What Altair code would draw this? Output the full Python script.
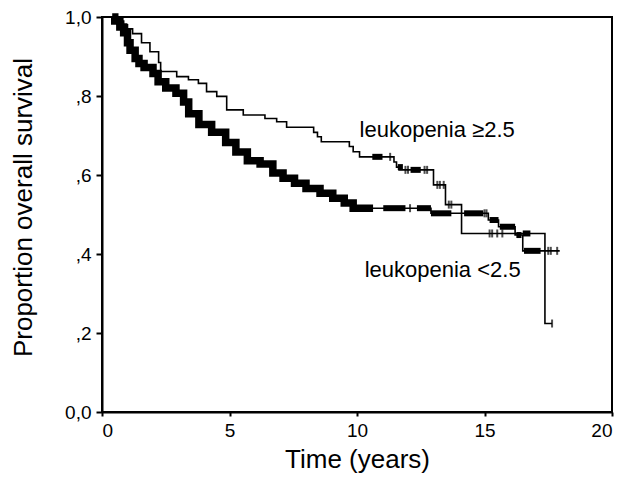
import altair as alt
import pandas as pd

# Kaplan-Meier step points (time in years, proportion surviving)
# leukopenia >= 2.5 (thin curve)
hi_t = [0, 0.6, 0.85, 1.0, 1.2, 1.55, 1.88, 2.22, 2.3, 2.93, 3.39, 3.78, 4.1, 4.5, 4.89,
        5.54, 6.39, 6.85, 7.24, 8.3, 8.45, 8.6, 9.7, 9.85, 10.1, 11.45, 11.55, 11.65,
        13.0, 13.47, 14.1, 17.37, 17.65]
hi_s = [1.0, 0.99, 0.98, 0.97, 0.958, 0.935, 0.912, 0.885, 0.862, 0.849, 0.841, 0.832, 0.811, 0.799, 0.765,
        0.752, 0.743, 0.735, 0.721, 0.708, 0.697, 0.684, 0.672, 0.659, 0.646, 0.633, 0.62, 0.613,
        0.575, 0.525, 0.452, 0.224, 0.224]

# leukopenia < 2.5 (heavy curve)
lo_t = [0, 0.5, 0.7, 0.85, 1.0, 1.1, 1.3, 1.45, 1.65, 2.0, 2.2, 2.5, 2.9, 3.2, 3.4, 3.8, 4.3,
        4.85, 5.25, 5.7, 6.2, 6.7, 7.1, 7.55, 8.0, 8.55, 9.05, 9.5, 9.85, 12.9, 15.15, 15.55,
        16.2, 16.5, 17.95]
lo_s = [1.0, 0.99, 0.975, 0.96, 0.935, 0.916, 0.895, 0.882, 0.872, 0.857, 0.836, 0.82, 0.807, 0.785,
        0.755, 0.728, 0.708, 0.682, 0.658, 0.636, 0.628, 0.605, 0.592, 0.579, 0.566, 0.554, 0.541,
        0.529, 0.516, 0.503, 0.486, 0.469, 0.448, 0.408, 0.408]

# stretch of the heavy curve where censor marks merge into a solid band
lo_band = [0.4, 10.63]

# clusters of censor marks (start, end) that print as solid blocks
lo_blk_start = [11.03, 12.35, 12.9, 14.2, 15.2, 15.6, 16.25, 16.55]
lo_blk_end = [11.9, 12.9, 13.7, 14.95, 15.55, 16.2, 16.45, 17.2]
hi_blk_start = [10.6, 11.6, 12.1, 16.5]
hi_blk_end = [11.0, 11.8, 12.5, 16.8]

# single censor marks
lo_cens = [12.08, 15.0, 15.08, 17.5, 17.6, 17.85]
hi_cens = [11.3, 11.9, 12.0, 12.65, 12.75, 13.15, 13.25, 13.4, 13.6, 13.7,
           15.2, 15.3, 15.5, 15.7, 17.65]

x_ticks = [0, 5, 10, 15, 20]
y_ticks = [0, 0.2, 0.4, 0.6, 0.8, 1.0]

labels = ["leukopenia \u22652.5", "leukopenia <2.5"]
label_t = [10.1, 10.3]
label_s = [0.697, 0.3425]


def surv(ts, ss, t):
    v = ss[0]
    for ti, si in zip(ts, ss):
        if ti <= t:
            v = si
    return v


lines = pd.DataFrame({
    "t": hi_t + lo_t,
    "s": hi_s + lo_s,
    "g": ["hi"] * len(hi_t) + ["lo"] * len(lo_t),
})

band_t = [lo_band[0]] + [t for t in lo_t if lo_band[0] < t <= lo_band[1]] + [lo_band[1]]
band = pd.DataFrame({"t": band_t, "s": [surv(lo_t, lo_s, t) for t in band_t]})

blocks = pd.DataFrame({
    "t0": lo_blk_start + hi_blk_start,
    "t1": lo_blk_end + hi_blk_end,
    "s": [surv(lo_t, lo_s, t) for t in lo_blk_start] + [surv(hi_t, hi_s, t) for t in hi_blk_start],
})

cens = pd.DataFrame({
    "t": lo_cens + hi_cens,
    "s": [surv(lo_t, lo_s, t) for t in lo_cens] + [surv(hi_t, hi_s, t) for t in hi_cens],
})

texts = pd.DataFrame({"t": label_t, "s": label_s, "label": labels})

FONT = "Liberation Sans"

xscale = alt.Scale(domain=[0, 20], nice=False, zero=False)
yscale = alt.Scale(domain=[0, 1], nice=False)

xaxis = alt.Axis(values=x_ticks, title="Time (years)", labelFontSize=19, titleFontSize=26,
                 tickSize=4, labelPadding=5, titlePadding=6, format="d")
yaxis = alt.Axis(values=y_ticks, title="Proportion overall survival", labelFontSize=19,
                 titleFontSize=26, tickSize=6, labelPadding=5,
                 labelExpr="datum.value == 0 ? '0,0' : (datum.value == 1 ? '1,0' : ',' + round(datum.value * 10))",
                 titleX=-79, titleY=190, titleAngle=-90, titleAlign="center", titleBaseline="middle")

base_x = alt.X("t:Q", scale=xscale, axis=xaxis)
base_y = alt.Y("s:Q", scale=yscale, axis=yaxis)

line_layer = alt.Chart(lines).mark_line(interpolate="step-after", color="black", strokeWidth=1.6).encode(
    x=base_x, y=base_y, detail="g:N")

band_layer = alt.Chart(band).mark_line(interpolate="step-after", color="black", strokeWidth=7.5,
                                       strokeJoin="miter").encode(
    x=alt.X("t:Q", scale=xscale), y=alt.Y("s:Q", scale=yscale))

block_layer = alt.Chart(blocks).mark_rule(color="black", strokeWidth=6).encode(
    x=alt.X("t0:Q", scale=xscale), x2="t1:Q", y=alt.Y("s:Q", scale=yscale))

cens_layer = alt.Chart(cens).mark_tick(orient="vertical", color="black", size=8, thickness=2).encode(
    x=alt.X("t:Q", scale=xscale), y=alt.Y("s:Q", scale=yscale))

text_layer = alt.Chart(texts).mark_text(align="left", baseline="alphabetic", font=FONT,
                                        fontSize=22, color="black").encode(
    x=alt.X("t:Q", scale=xscale), y=alt.Y("s:Q", scale=yscale), text="label:N")

chart = alt.layer(line_layer, band_layer, block_layer, cens_layer, text_layer).properties(
    width=510, height=395,
    autosize=alt.AutoSizeParams(type="none"),
    padding={"left": 94, "top": 9, "right": 6, "bottom": 67},
).configure_view(
    stroke="black", strokeWidth=2
).configure_axis(
    grid=False, domainColor="black", domainWidth=2, tickColor="black", tickWidth=2,
    labelFont=FONT, titleFont=FONT, labelColor="black", titleColor="black",
    titleFontWeight="normal", labelFontWeight="normal"
)

chart.save("out.html", embed_options={"renderer": "svg", "actions": False})
